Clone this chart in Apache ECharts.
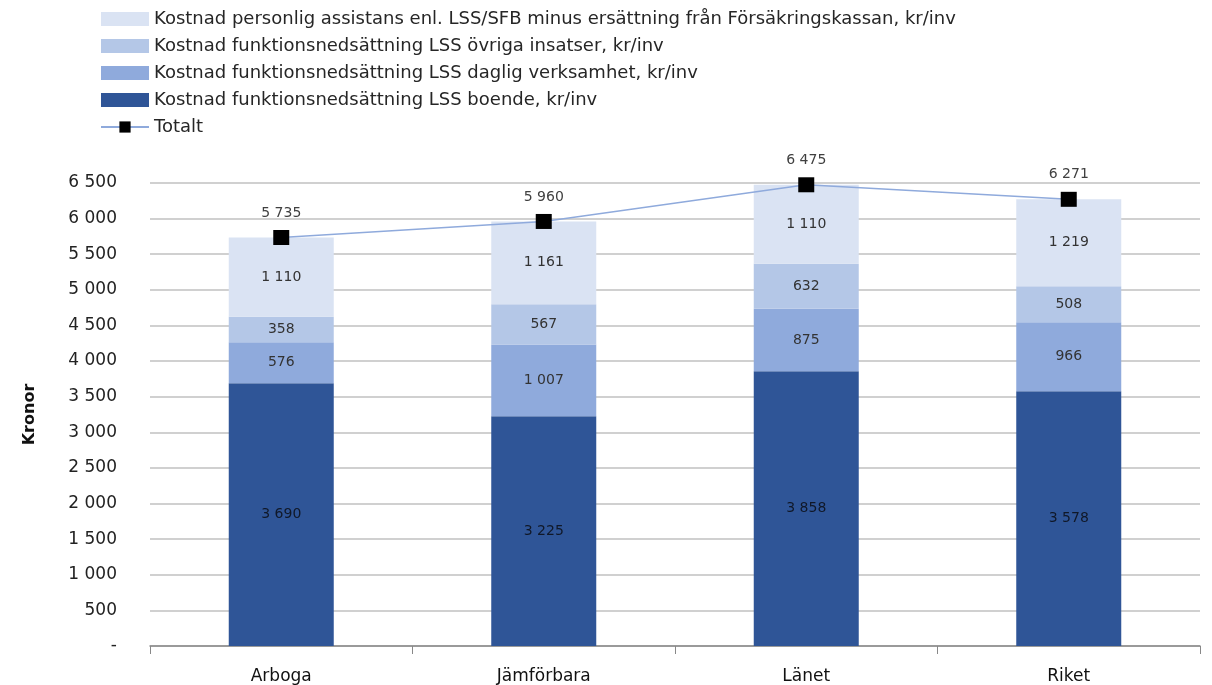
<!DOCTYPE html>
<html><head><meta charset="utf-8">
<script src="https://cdn.jsdelivr.net/npm/echarts@6/dist/echarts.min.js"></script>
<style>html,body{margin:0;padding:0;background:#fff}#c{width:1212px;height:685px}</style>
</head><body><div id="c"></div>
<script>
const categories = ['Arboga', 'Jämförbara', 'Länet', 'Riket'];
const boende = [3690, 3225, 3858, 3578];
const daglig = [576, 1007, 875, 966];
const ovriga = [358, 567, 632, 508];
const personlig = [1110, 1161, 1110, 1219];
const totalt = [5735, 5960, 6475, 6271];
const names = [
  'Kostnad funktionsnedsättning LSS boende, kr/inv',
  'Kostnad funktionsnedsättning LSS daglig verksamhet, kr/inv',
  'Kostnad funktionsnedsättning LSS övriga insatser, kr/inv',
  'Kostnad personlig assistans enl. LSS/SFB minus ersättning från Försäkringskassan, kr/inv',
  'Totalt'
];
const colors = ['#2F5597', '#8FAADC', '#B4C7E7', '#DAE3F3'];
function fmt(v){ if(v===0) return '-'; return String(v).replace(/\B(?=(\d{3})+(?!\d))/g, ' '); }
const font = 'DejaVu Sans';
const chart = echarts.init(document.getElementById('c'));
const barData = [boende, daglig, ovriga, personlig];
const series = barData.map((d, i) => ({
  name: names[i], type: 'bar', stack: 's', data: d, barWidth: '40%',
  itemStyle: { color: colors[i] },
  label: { show: true, position: 'inside', formatter: p => fmt(p.value), color: i === 0 ? '#101828' : '#333', fontFamily: font, fontSize: 14 }
}));
series.push({
  name: names[4], type: 'line', data: totalt, symbol: 'rect', symbolSize: [16, 15],
  itemStyle: { color: '#000' }, lineStyle: { color: '#8FAADC', width: 1.5 },
  label: { show: true, position: 'top', distance: 10, formatter: p => fmt(p.value), color: '#404040', fontFamily: font, fontSize: 14 },
  z: 10
});
const legendData = [names[3], names[2], names[1], names[0]].map(n => ({ name: n, icon: 'rect' }));
legendData.push({ name: names[4] });
chart.setOption({
  animation: false,
  grid: { left: 150, right: 12, top: 183, bottom: 38 },
  legend: {
    orient: 'vertical', left: 95, top: 5, itemWidth: 48, itemHeight: 14, itemGap: 9,
    data: legendData,
    textStyle: { fontFamily: font, fontSize: 18, color: '#262626' }
  },
  xAxis: {
    type: 'category', data: categories,
    axisLine: { lineStyle: { color: '#888', width: 1.5 } },
    axisTick: { show: true, length: 8, lineStyle: { color: '#888' } },
    axisLabel: { fontFamily: font, fontSize: 17, color: '#111', margin: 22 }
  },
  yAxis: {
    type: 'value', min: 0, max: 6500, interval: 500,
    name: 'Kronor', nameLocation: 'middle', nameGap: 112, nameRotate: 90,
    nameTextStyle: { fontFamily: font, fontSize: 16, fontWeight: 'bold', color: '#111' },
    axisLine: { show: false }, axisTick: { show: false },
    splitLine: { lineStyle: { color: '#c0c0c0', width: 1.5 } },
    axisLabel: { fontFamily: font, fontSize: 17, color: '#222', margin: 33, formatter: v => fmt(v) }
  },
  series
});
</script></body></html>
